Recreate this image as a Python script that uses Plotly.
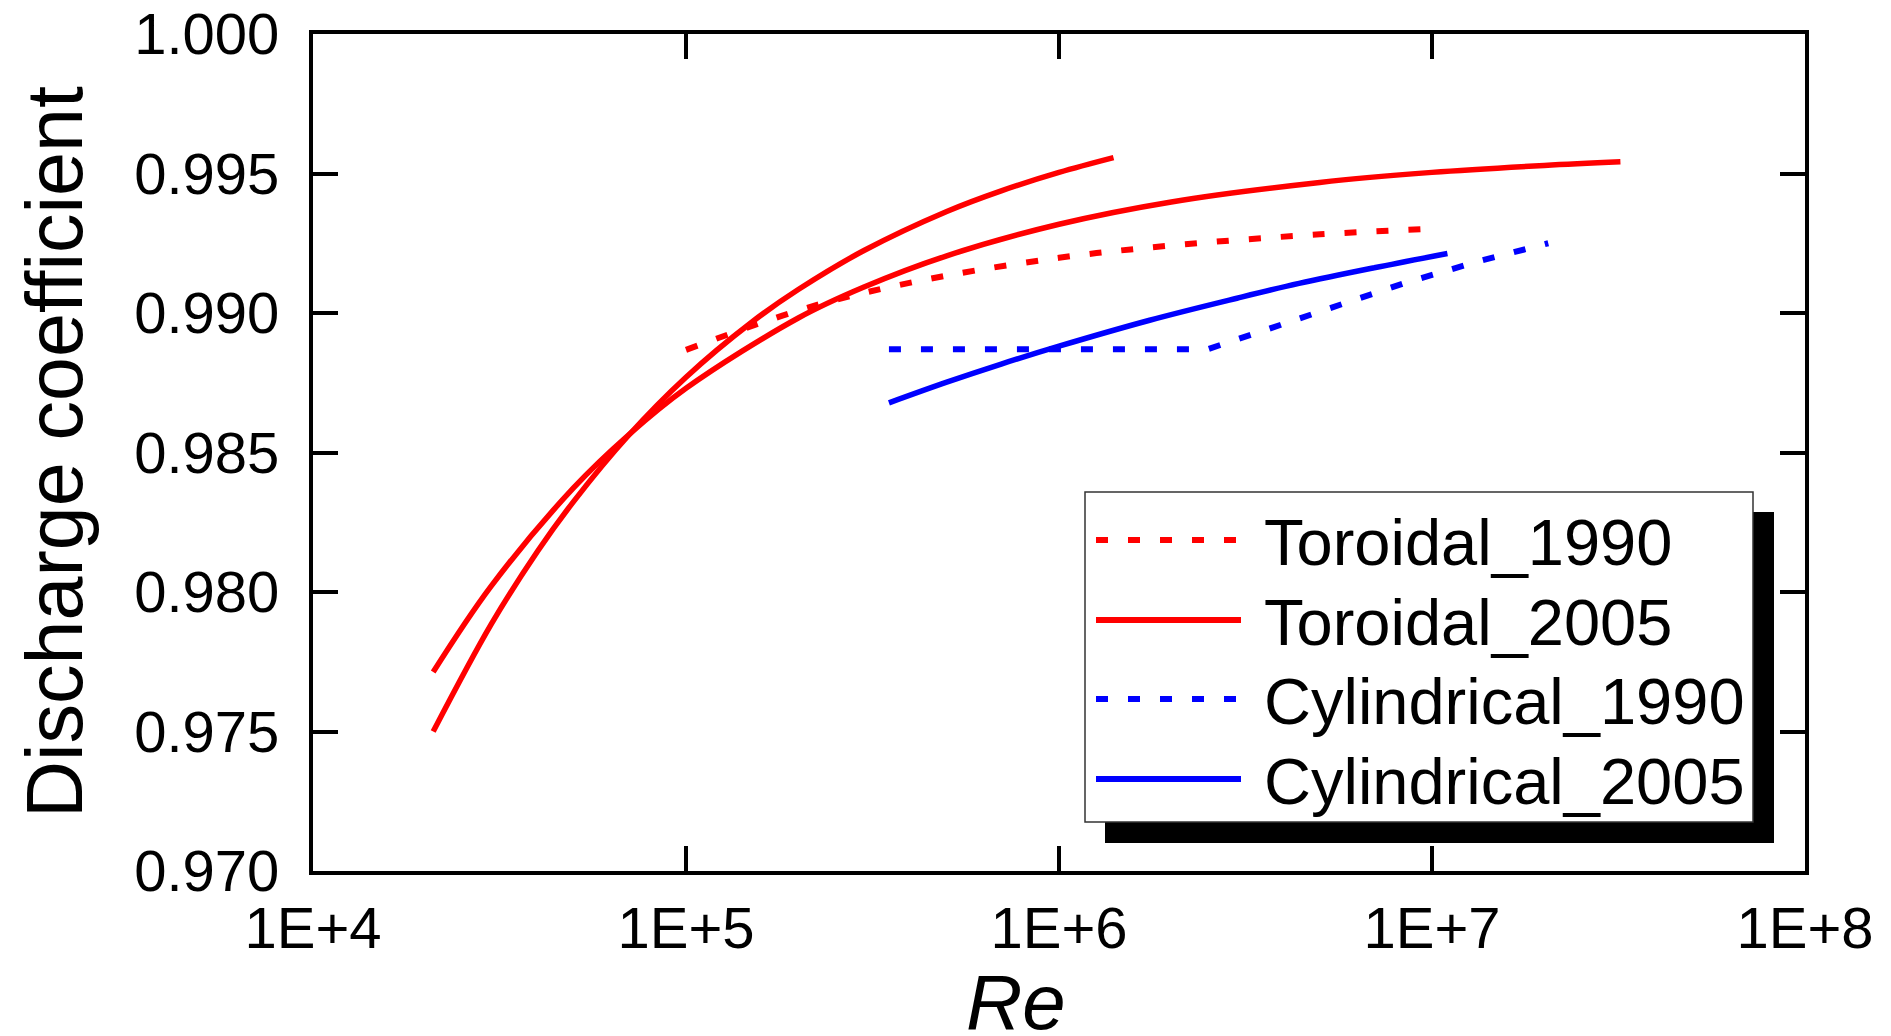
import plotly.graph_objects as go

# ---- data ----
tor1990_re = [1e5, 2e5, 3e5, 5e5, 1e6, 2e6, 5e6, 1e7]
tor1990_cd = [0.98868, 0.99009, 0.99072, 0.99134, 0.99198, 0.99242, 0.99282, 0.99302]

tor2005a_re = [2.1e4, 3e4, 4e4, 5e4, 7e4, 1e5, 1.5e5, 2e5, 3e5, 5e5, 7e5, 1e6, 1.4e6]
tor2005a_cd = [0.97500, 0.97883, 0.98146, 0.98325, 0.98560, 0.98770, 0.98967, 0.99084,
               0.99224, 0.99364, 0.99438, 0.99504, 0.99557]

tor2005b_re = [2.1e4, 3e4, 5e4, 7e4, 1e5, 2e5, 3e5, 5e5, 1e6, 2e6, 5e6, 1e7, 2e7, 3.2e7]
tor2005b_cd = [0.97713, 0.98020, 0.98374, 0.98562, 0.98730, 0.98982, 0.99093, 0.99205,
               0.99318, 0.99398, 0.99468, 0.99504, 0.99529, 0.99542]

cyl1990_re = [3.5e5, 2.5e6, 3.5e6, 4.8e6, 6.4e6, 8.6e6, 1.34e7, 2.05e7]
cyl1990_cd = [0.98870, 0.98870, 0.98935, 0.98998, 0.99055, 0.99111, 0.99186, 0.99250]

cyl2005_re = [3.5e5, 5e5, 7e5, 1e6, 1.75e6, 3e6, 4.4e6, 7e6, 1.1e7]
cyl2005_cd = [0.98678, 0.98752, 0.98817, 0.98881, 0.98974, 0.99053, 0.99106, 0.99162, 0.99213]

x_tickvals = [1e4, 1e5, 1e6, 1e7, 1e8]
x_ticktext = ["1E+4", "1E+5", "1E+6", "1E+7", "1E+8"]
y_tickvals = [0.970, 0.975, 0.980, 0.985, 0.990, 0.995, 1.000]

legend_names = ["Toroidal_1990", "Toroidal_2005", "Cylindrical_1990", "Cylindrical_2005"]
legend_colors = ["#FF0000", "#FF0000", "#0000FF", "#0000FF"]
legend_dashes = ["12px,20px", "solid", "12px,20px", "solid"]

FONT = "Liberation Sans, Arial, sans-serif"
DOT = "12px,20px"

fig = go.Figure()
fig.add_trace(go.Scatter(x=tor1990_re, y=tor1990_cd, mode="lines", name="Toroidal_1990",
                         line=dict(color="#FF0000", width=6, dash=DOT, shape="spline"), showlegend=False))
fig.add_trace(go.Scatter(x=tor2005a_re, y=tor2005a_cd, mode="lines", name="Toroidal_2005",
                         line=dict(color="#FF0000", width=5.5, shape="spline"), showlegend=False))
fig.add_trace(go.Scatter(x=tor2005b_re, y=tor2005b_cd, mode="lines", name="Toroidal_2005",
                         line=dict(color="#FF0000", width=5.5, shape="spline"), showlegend=False))
fig.add_trace(go.Scatter(x=cyl1990_re, y=cyl1990_cd, mode="lines", name="Cylindrical_1990",
                         line=dict(color="#0000FF", width=6, dash=DOT), showlegend=False))
fig.add_trace(go.Scatter(x=cyl2005_re, y=cyl2005_cd, mode="lines", name="Cylindrical_2005",
                         line=dict(color="#0000FF", width=5.5, shape="spline"), showlegend=False))

W, H = 1891, 1036
L, R, T, B = 313, 86, 34, 165
pw, ph = W - L - R, H - T - B

def px(xp):
    return (xp - L) / pw

def py(yp):
    return (H - B - yp) / ph

shapes = []
# legend shadow and box
shapes.append(dict(type="rect", xref="paper", yref="paper",
                   x0=px(1105), x1=px(1774), y0=py(843), y1=py(512),
                   fillcolor="black", line=dict(width=0), layer="above"))
shapes.append(dict(type="rect", xref="paper", yref="paper",
                   x0=px(1085), x1=px(1753), y0=py(822), y1=py(492),
                   fillcolor="white", line=dict(color="#333333", width=1.5), layer="above"))
annotations = []
row_y = [540, 620, 699, 779]
for name, col, dash, ry in zip(legend_names, legend_colors, legend_dashes, row_y):
    shapes.append(dict(type="line", xref="paper", yref="paper",
                       x0=px(1096), x1=px(1241), y0=py(ry), y1=py(ry),
                       line=dict(color=col, width=6, dash=dash), layer="above"))
    annotations.append(dict(text=name, xref="paper", yref="paper", x=px(1262), y=py(ry + 2),
                            xanchor="left", yanchor="middle", showarrow=False,
                            font=dict(family=FONT, size=65, color="black")))

annotations.append(dict(text="Discharge coefficient", xref="paper", yref="paper",
                        x=px(54), y=py(452), xanchor="center", yanchor="middle",
                        textangle=-90, showarrow=False,
                        font=dict(family=FONT, size=79, color="black")))
annotations.append(dict(text="<i>Re</i>", xref="paper", yref="paper",
                        x=px(1016), y=py(1002), xanchor="center", yanchor="middle",
                        showarrow=False, font=dict(family=FONT, size=78, color="black")))

axis_common = dict(showgrid=False, zeroline=False, showline=True, linecolor="black",
                   linewidth=4, mirror="ticks", ticks="inside", ticklen=25, tickwidth=4,
                   tickcolor="black", tickfont=dict(family=FONT, size=58, color="black"))

fig.update_xaxes(type="log", range=[4, 8], tickvals=x_tickvals, ticktext=x_ticktext,
                 ticklabelstandoff=3, **axis_common)
fig.update_yaxes(range=[0.970, 1.000], tickvals=y_tickvals, tickformat=".3f",
                 ticklabelstandoff=18, **axis_common)

fig.update_layout(width=W, height=H, margin=dict(l=L, r=R, t=T, b=B, autoexpand=False),
                  paper_bgcolor="white", plot_bgcolor="white", showlegend=False,
                  shapes=shapes, annotations=annotations)

fig.write_html("out.html")
